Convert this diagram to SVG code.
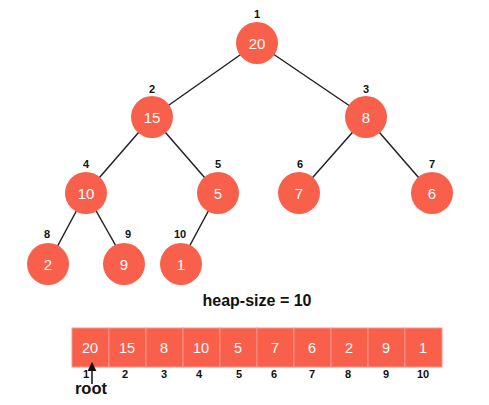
<svg xmlns="http://www.w3.org/2000/svg" width="489" height="405" viewBox="0 0 489 405">
  <style>
    .node { fill: #F9604C; }
    .val { font-family: "Liberation Sans", Arial, sans-serif; font-size: 15px; fill: #ffffff; text-anchor: middle; }
    .aval { font-family: "Liberation Sans", Arial, sans-serif; font-size: 14.5px; fill: #ffffff; text-anchor: middle; }
    .idx { font-family: "Liberation Sans", Arial, sans-serif; font-size: 11px; font-weight: bold; fill: #111111; text-anchor: middle; }
    .edge { stroke: #222222; stroke-width: 1.5; fill: none; }
    .cell { fill: #F9604C; stroke: #FB9386; stroke-width: 1; }
    .title { font-family: "Liberation Sans", Arial, sans-serif; font-size: 16px; font-weight: bold; fill: #111111; text-anchor: middle; }
  </style>
  <defs>
    <marker id="arrowUp" viewBox="0 0 10 10" refX="9" refY="5" markerWidth="6" markerHeight="6" orient="auto">
      <path d="M0,0 L10,5 L0,10 z" fill="#111111"/>
    </marker>
  </defs>
  <rect width="489" height="405" fill="#ffffff"/>

  <!-- tree edges -->
  <g id="connectors">
    <line class="edge" x1="257" y1="43" x2="152" y2="117"/>
    <line class="edge" x1="257" y1="43" x2="366" y2="117"/>
    <line class="edge" x1="152" y1="117" x2="86" y2="193"/>
    <line class="edge" x1="152" y1="117" x2="218" y2="193"/>
    <line class="edge" x1="366" y1="117" x2="299" y2="193"/>
    <line class="edge" x1="366" y1="117" x2="432" y2="193"/>
    <line class="edge" x1="86" y1="193" x2="49" y2="262"/>
    <line class="edge" x1="86" y1="193" x2="125" y2="262"/>
    <line class="edge" x1="218" y1="193" x2="181" y2="262"/>
  </g>

  <!-- tree nodes with their heap indices -->
  <g id="n1"><circle class="node" cx="257" cy="43" r="21"/><text class="val" x="257" y="48.5">20</text><text class="idx" x="257" y="17.5">1</text></g>
  <g id="n2"><circle class="node" cx="152" cy="117" r="21"/><text class="val" x="152" y="122.5">15</text><text class="idx" x="152" y="93">2</text></g>
  <g id="n3"><circle class="node" cx="366" cy="117" r="21"/><text class="val" x="366" y="122.5">8</text><text class="idx" x="366" y="93">3</text></g>
  <g id="n4"><circle class="node" cx="86" cy="193" r="21"/><text class="val" x="86" y="198.5">10</text><text class="idx" x="86" y="168">4</text></g>
  <g id="n5"><circle class="node" cx="218" cy="193" r="21"/><text class="val" x="218" y="198.5">5</text><text class="idx" x="218" y="168">5</text></g>
  <g id="n6"><circle class="node" cx="299" cy="193" r="21"/><text class="val" x="299" y="198.5">7</text><text class="idx" x="300" y="168">6</text></g>
  <g id="n7"><circle class="node" cx="432" cy="193" r="21"/><text class="val" x="432" y="198.5">6</text><text class="idx" x="432" y="168">7</text></g>
  <g id="n8"><circle class="node" cx="48" cy="264" r="21"/><text class="val" x="48" y="269.5">2</text><text class="idx" x="47" y="238">8</text></g>
  <g id="n9"><circle class="node" cx="124" cy="264" r="21"/><text class="val" x="124" y="269.5">9</text><text class="idx" x="128" y="238">9</text></g>
  <g id="n10"><circle class="node" cx="181" cy="264" r="21"/><text class="val" x="181" y="269.5">1</text><text class="idx" x="180" y="238">10</text></g>

  <text class="title" x="257" y="306">heap-size = 10</text>

  <!-- array representation -->
  <g id="array">
    <rect class="cell" x="72" y="328" width="37" height="39"/>
    <rect class="cell" x="109" y="328" width="37" height="39"/>
    <rect class="cell" x="146" y="328" width="37" height="39"/>
    <rect class="cell" x="183" y="328" width="37" height="39"/>
    <rect class="cell" x="220" y="328" width="37" height="39"/>
    <rect class="cell" x="257" y="328" width="37" height="39"/>
    <rect class="cell" x="294" y="328" width="37" height="39"/>
    <rect class="cell" x="331" y="328" width="37" height="39"/>
    <rect class="cell" x="368" y="328" width="37" height="39"/>
    <rect class="cell" x="405" y="328" width="37" height="39"/>
    <text class="aval" x="90" y="353">20</text>
    <text class="aval" x="127" y="353">15</text>
    <text class="aval" x="164" y="353">8</text>
    <text class="aval" x="201" y="353">10</text>
    <text class="aval" x="238" y="353">5</text>
    <text class="aval" x="275" y="353">7</text>
    <text class="aval" x="312" y="353">6</text>
    <text class="aval" x="349" y="353">2</text>
    <text class="aval" x="386" y="353">9</text>
    <text class="aval" x="423" y="353">1</text>
    <text class="idx" x="86" y="378">1</text>
    <text class="idx" x="125" y="378">2</text>
    <text class="idx" x="164" y="378">3</text>
    <text class="idx" x="199" y="378">4</text>
    <text class="idx" x="239" y="378">5</text>
    <text class="idx" x="274" y="378">6</text>
    <text class="idx" x="312" y="378">7</text>
    <text class="idx" x="348" y="378">8</text>
    <text class="idx" x="386" y="378">9</text>
    <text class="idx" x="423" y="378">10</text>
  </g>

  <!-- root pointer -->
  <g id="root-pointer">
    <line x1="92" y1="384" x2="92" y2="363" stroke="#111111" stroke-width="1.5" marker-end="url(#arrowUp)"/>
    <text x="91" y="394" font-family="Liberation Sans, Arial, sans-serif" font-size="16.5" font-weight="bold" fill="#111111" text-anchor="middle">root</text>
  </g>
</svg>
